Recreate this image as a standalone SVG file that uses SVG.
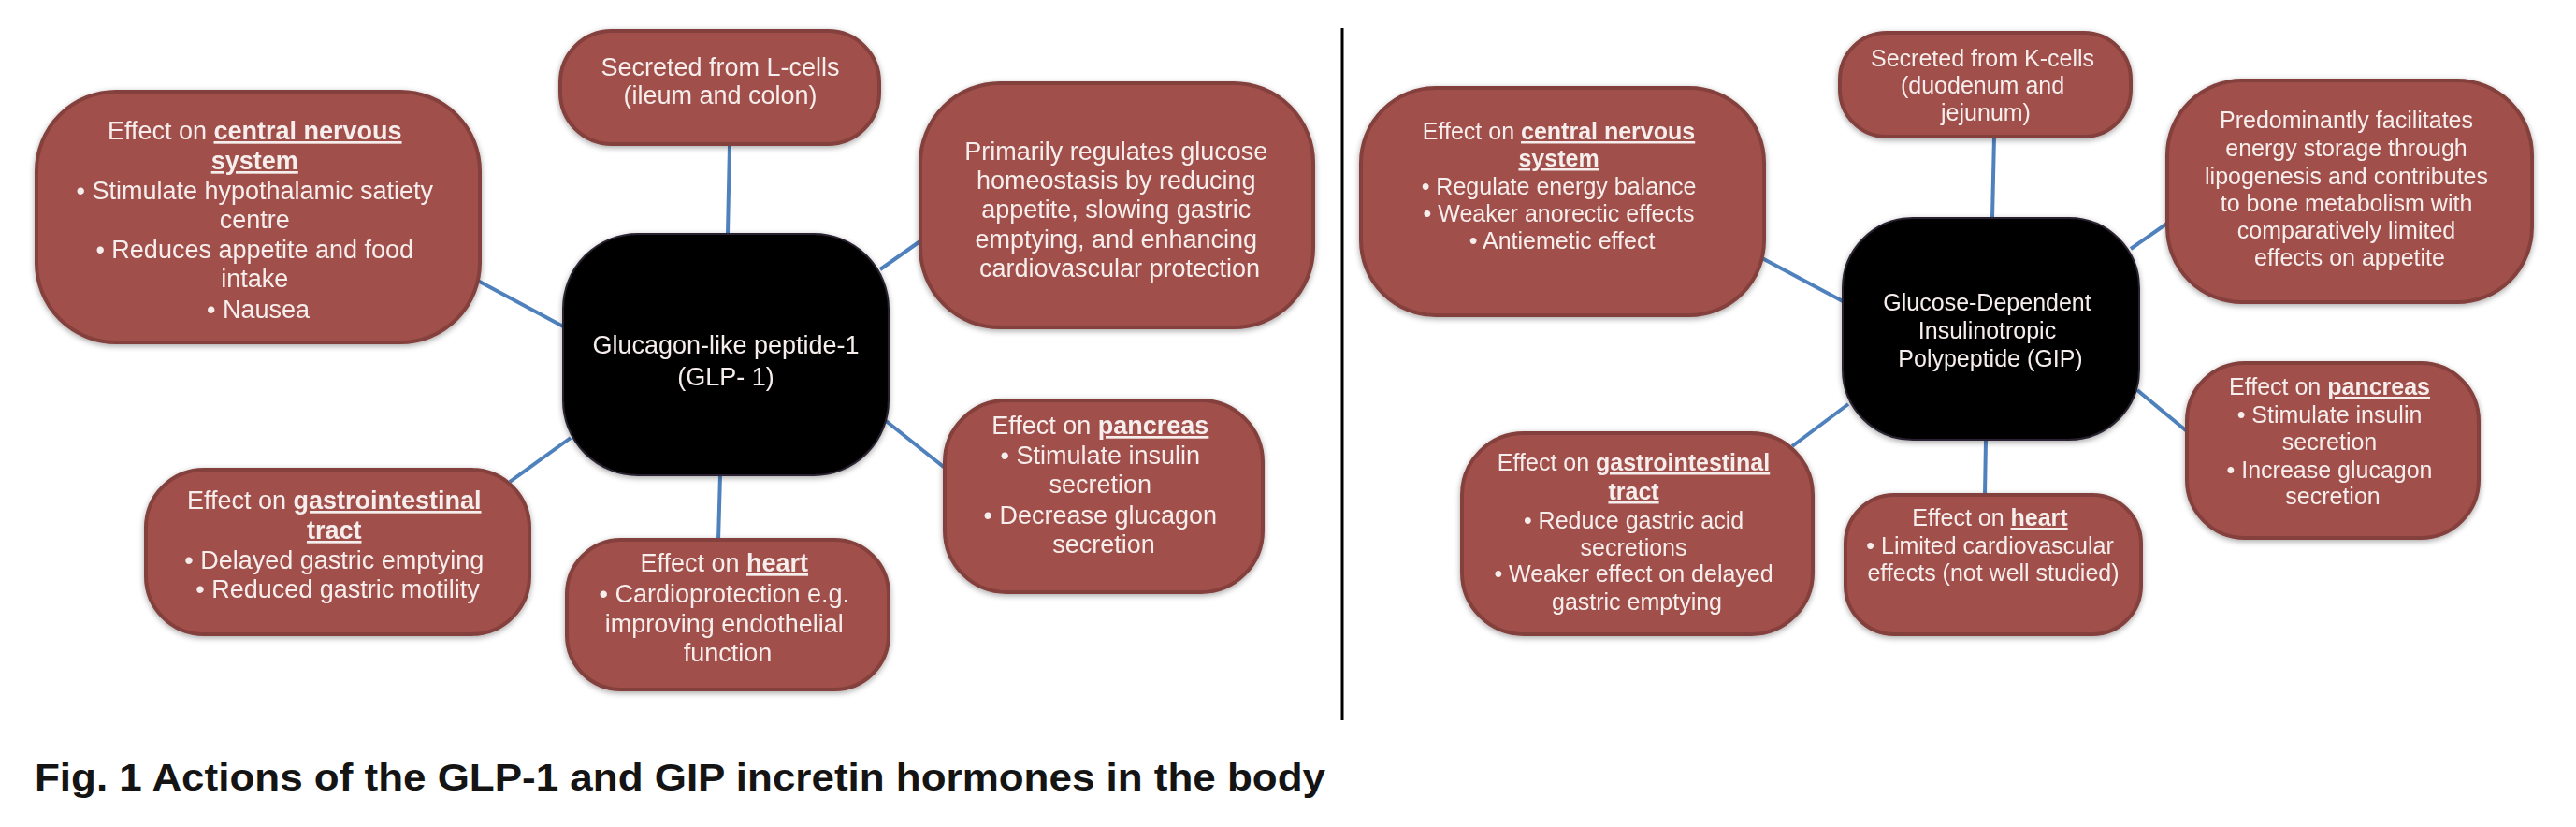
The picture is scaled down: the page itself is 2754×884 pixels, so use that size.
<svg xmlns="http://www.w3.org/2000/svg" width="2754" height="884" viewBox="0 0 2754 884">
<defs>
<style>
.box{fill:#A14F4B;stroke:#83403C;stroke-width:4}
.hub{fill:#050505;stroke:#2a2430;stroke-width:2}
.con{stroke:#4F81BD;stroke-width:4;fill:none;stroke-linecap:butt}
.t{font-family:"Liberation Sans",Arial,sans-serif;fill:#F6EEEC;text-anchor:middle}
.L{font-size:27px}
.R{font-size:25px}
.b{font-weight:bold;text-decoration:underline}
.cap{font-family:"Liberation Sans",Arial,sans-serif;font-weight:bold;font-size:41px;fill:#141414}
</style>
<filter id="sh" x="-10%" y="-10%" width="120%" height="120%">
<feGaussianBlur in="SourceAlpha" stdDeviation="3"/>
<feOffset dx="0" dy="2" result="o"/>
<feComponentTransfer><feFuncA type="linear" slope="0.35"/></feComponentTransfer>
<feMerge><feMergeNode/><feMergeNode in="SourceGraphic"/></feMerge>
</filter>
</defs>
<rect width="2754" height="884" fill="#ffffff"/>

<g id="connectors">
<line class="con" x1="780" y1="155" x2="778" y2="250"/>
<line class="con" x1="507" y1="298" x2="604" y2="350"/>
<line class="con" x1="941" y1="288" x2="985" y2="257"/>
<line class="con" x1="610" y1="468" x2="545" y2="515"/>
<line class="con" x1="770" y1="508" x2="768" y2="578"/>
<line class="con" x1="946" y1="449" x2="1010" y2="500"/>
<line class="con" x1="2132" y1="146" x2="2130" y2="233"/>
<line class="con" x1="1882" y1="275" x2="1970" y2="322"/>
<line class="con" x1="2278" y1="266" x2="2318" y2="238"/>
<line class="con" x1="2285" y1="417" x2="2338" y2="461"/>
<line class="con" x1="1976" y1="432" x2="1916" y2="477"/>
<line class="con" x1="2123" y1="470" x2="2122" y2="529"/>
</g>

<g id="divider">
<line x1="1435" y1="30" x2="1435" y2="770" stroke="#000" stroke-width="3"/>
</g>

<!-- Left panel: GLP-1 -->
<g id="glp1-lcells" filter="url(#sh)">
<rect class="box" x="599" y="33" width="341" height="121" rx="55"/>
<text class="t L"><tspan x="770" y="81">Secreted from L-cells</tspan><tspan x="770" y="111">(ileum and colon)</tspan></text>
</g>

<g id="glp1-cns" filter="url(#sh)">
<rect class="box" x="39" y="98" width="474" height="268" rx="85"/>
<text class="t L">
<tspan x="276" y="149">Effect on <tspan class="b">central nervous</tspan></tspan>
<tspan x="276" y="181" class="b">system</tspan>
<tspan x="276" y="213">• Stimulate hypothalamic satiety</tspan>
<tspan x="276" y="244">centre</tspan>
<tspan x="276" y="276">• Reduces appetite and food</tspan>
<tspan x="276" y="307">intake</tspan>
<tspan x="276" y="340">• Nausea</tspan>
</text>
</g>

<g id="glp1-role" filter="url(#sh)">
<rect class="box" x="984" y="89" width="420" height="261" rx="85"/>
<text class="t L">
<tspan x="1197" y="171">Primarily regulates glucose</tspan>
<tspan x="1197" y="202">homeostasis by reducing</tspan>
<tspan x="1197" y="233">appetite, slowing gastric</tspan>
<tspan x="1197" y="265">emptying, and enhancing</tspan>
<tspan x="1197" y="296">cardiovascular protection</tspan>
</text>
</g>

<g id="glp1-hub" filter="url(#sh)">
<rect class="hub" x="602" y="250" width="348" height="258" rx="80"/>
<text class="t L"><tspan x="776" y="378">Glucagon-like peptide-1</tspan><tspan x="776" y="412">(GLP- 1)</tspan></text>
</g>

<g id="glp1-gi" filter="url(#sh)">
<rect class="box" x="156" y="502" width="410" height="176" rx="62"/>
<text class="t L">
<tspan x="361" y="544">Effect on <tspan class="b">gastrointestinal</tspan></tspan>
<tspan x="361" y="576" class="b">tract</tspan>
<tspan x="361" y="608">• Delayed gastric emptying</tspan>
<tspan x="361" y="639">• Reduced gastric motility</tspan>
</text>
</g>

<g id="glp1-heart" filter="url(#sh)">
<rect class="box" x="606" y="577" width="344" height="160" rx="58"/>
<text class="t L">
<tspan x="778" y="611">Effect on <tspan class="b">heart</tspan></tspan>
<tspan x="778" y="644">• Cardioprotection e.g.</tspan>
<tspan x="778" y="676">improving endothelial</tspan>
<tspan x="778" y="707">function</tspan>
</text>
</g>

<g id="glp1-pancreas" filter="url(#sh)">
<rect class="box" x="1010" y="428" width="340" height="205" rx="66"/>
<text class="t L">
<tspan x="1180" y="464">Effect on <tspan class="b">pancreas</tspan></tspan>
<tspan x="1180" y="496">• Stimulate insulin</tspan>
<tspan x="1180" y="527">secretion</tspan>
<tspan x="1180" y="560">• Decrease glucagon</tspan>
<tspan x="1180" y="591">secretion</tspan>
</text>
</g>

<!-- Right panel: GIP -->
<g id="gip-cns" filter="url(#sh)">
<rect class="box" x="1455" y="94" width="431" height="243" rx="80"/>
<text class="t R">
<tspan x="1670" y="149">Effect on <tspan class="b">central nervous</tspan></tspan>
<tspan x="1670" y="178" class="b">system</tspan>
<tspan x="1670" y="208">• Regulate energy balance</tspan>
<tspan x="1670" y="237">• Weaker anorectic effects</tspan>
<tspan x="1670" y="266">• Antiemetic effect</tspan>
</text>
</g>

<g id="gip-kcells" filter="url(#sh)">
<rect class="box" x="1967" y="35" width="311" height="111" rx="50"/>
<text class="t R">
<tspan x="2123" y="71">Secreted from K-cells</tspan>
<tspan x="2123" y="100">(duodenum and</tspan>
<tspan x="2123" y="129">jejunum)</tspan>
</text>
</g>

<g id="gip-role" filter="url(#sh)">
<rect class="box" x="2317" y="86" width="390" height="237" rx="80"/>
<text class="t R">
<tspan x="2512" y="137">Predominantly facilitates</tspan>
<tspan x="2512" y="167">energy storage through</tspan>
<tspan x="2512" y="197">lipogenesis and contributes</tspan>
<tspan x="2512" y="226">to bone metabolism with</tspan>
<tspan x="2512" y="255">comparatively limited</tspan>
<tspan x="2512" y="284">effects on appetite</tspan>
</text>
</g>

<g id="gip-hub" filter="url(#sh)">
<rect class="hub" x="1970" y="233" width="317" height="237" rx="75"/>
<text class="t R">
<tspan x="2128" y="332">Glucose-Dependent</tspan>
<tspan x="2128" y="362">Insulinotropic</tspan>
<tspan x="2128" y="392">Polypeptide (GIP)</tspan>
</text>
</g>

<g id="gip-pancreas" filter="url(#sh)">
<rect class="box" x="2338" y="388" width="312" height="187" rx="62"/>
<text class="t R">
<tspan x="2494" y="422">Effect on <tspan class="b">pancreas</tspan></tspan>
<tspan x="2494" y="452">• Stimulate insulin</tspan>
<tspan x="2494" y="481">secretion</tspan>
<tspan x="2494" y="511">• Increase glucagon</tspan>
<tspan x="2494" y="539">secretion</tspan>
</text>
</g>

<g id="gip-heart" filter="url(#sh)">
<rect class="box" x="1973" y="529" width="316" height="149" rx="52"/>
<text class="t R">
<tspan x="2131" y="562">Effect on <tspan class="b">heart</tspan></tspan>
<tspan x="2131" y="592">• Limited cardiovascular</tspan>
<tspan x="2131" y="621">effects (not well studied)</tspan>
</text>
</g>

<g id="gip-gi" filter="url(#sh)">
<rect class="box" x="1563" y="463" width="375" height="215" rx="66"/>
<text class="t R">
<tspan x="1750" y="503">Effect on <tspan class="b">gastrointestinal</tspan></tspan>
<tspan x="1750" y="534" class="b">tract</tspan>
<tspan x="1750" y="565">• Reduce gastric acid</tspan>
<tspan x="1750" y="594">secretions</tspan>
<tspan x="1750" y="622">• Weaker effect on delayed</tspan>
<tspan x="1750" y="652">gastric emptying</tspan>
</text>
</g>

<g id="caption">
<text class="cap" x="37" y="845" textLength="1380" lengthAdjust="spacingAndGlyphs">Fig. 1 Actions of the GLP-1 and GIP incretin hormones in the body</text>
</g>
</svg>
